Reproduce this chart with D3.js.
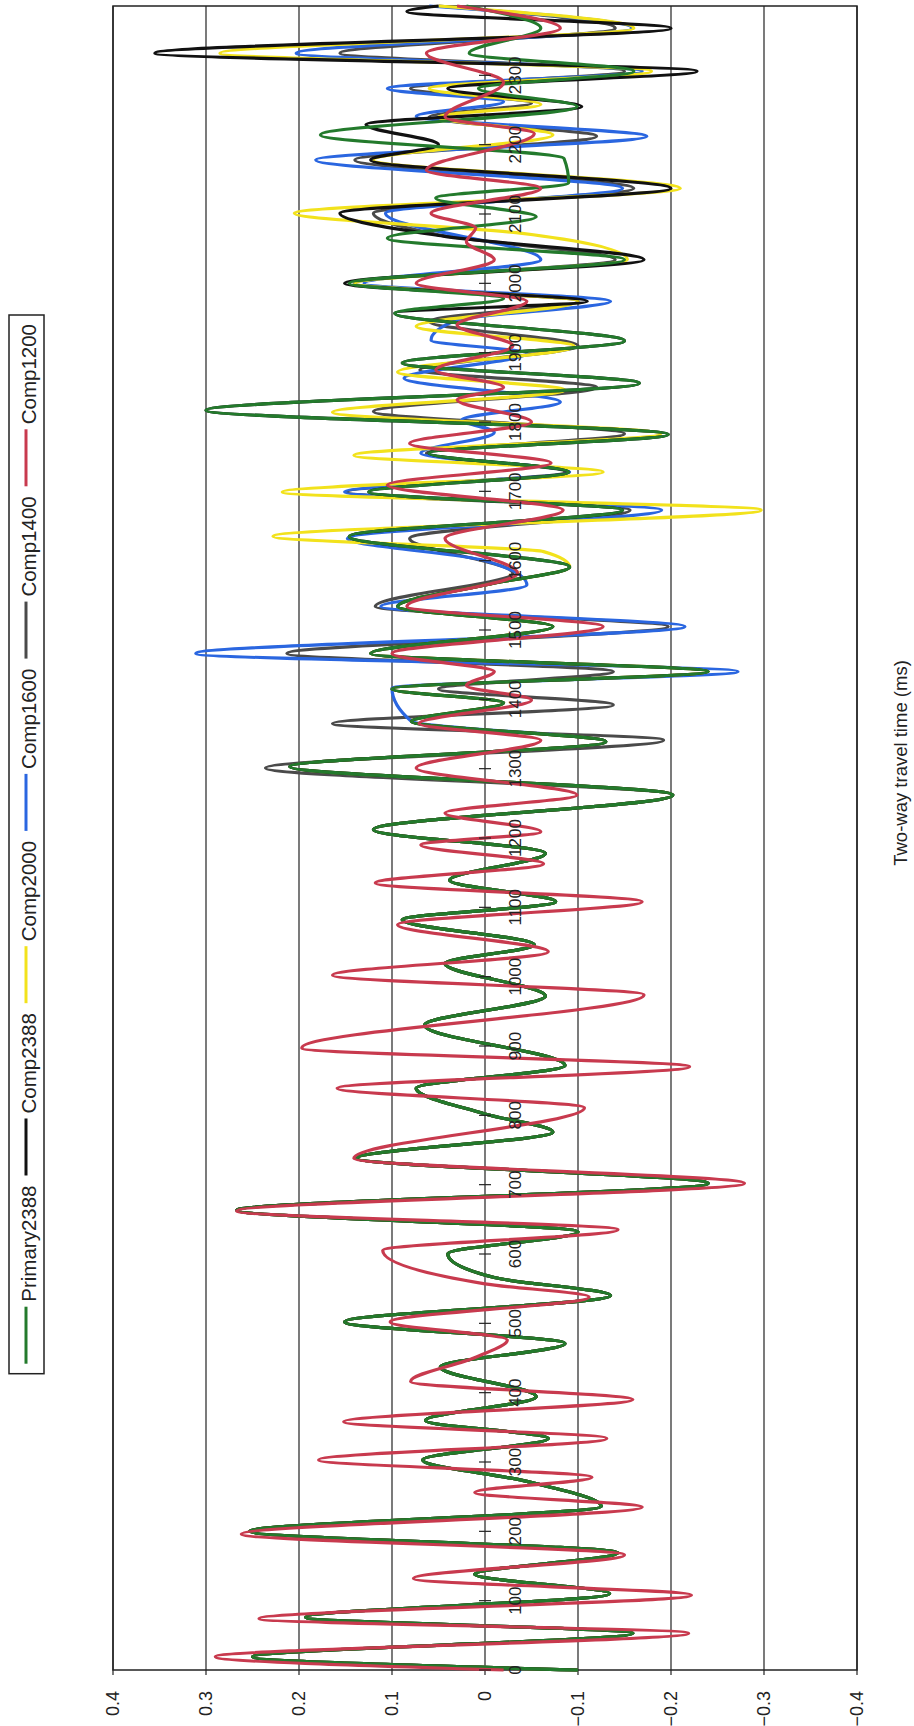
<!DOCTYPE html>
<html>
<head>
<meta charset="utf-8">
<script src="https://cdn.jsdelivr.net/npm/d3@7"></script>
<style>
  body { margin: 0; background: #fff; }
  svg { display: block; font-family: "Liberation Sans", Arial, sans-serif; }
</style>
</head>
<body>
<svg id="chart" width="914" height="1726"></svg>
<script>
// tick labels
const timeTicks = [0,100,200,300,400,500,600,700,800,900,1000,1100,1200,1300,1400,1500,1600,1700,1800,1900,2000,2100,2200,2300];
const ampTicks = [0.4,0.3,0.2,0.1,0,-0.1,-0.2,-0.3,-0.4];

// series: [time ms, amplitude]
const primary2388 = [
  [0,-0.10],[19,0.25],[53,-0.159],[76,0.193],[110,-0.134],[138,0.011],[169,-0.143],[200,0.253],[236,-0.125],[272,-0.045],
  [303,0.067],[334,-0.068],[360,0.064],[394,-0.055],[437,0.048],[471,-0.086],[502,0.151],[540,-0.135],[566,-0.01],[600,0.04],
  [632,-0.10],[663,0.267],[702,-0.24],[738,0.138],[776,-0.073],[802,0.0],[839,0.074],[872,-0.086],[930,0.065],[972,-0.065],
  [1019,0.043],[1046,-0.053],[1082,0.089],[1108,-0.076],[1139,0.038],[1178,-0.065],[1212,0.12],[1262,-0.202],[1303,0.21],[1339,-0.13],
  [1368,0.079],[1395,-0.02],[1415,0.10],[1440,-0.24],[1466,0.123],[1505,-0.073],[1534,0.094],[1565,0.0],[1591,-0.091],[1635,0.146],
  [1673,-0.148],[1699,0.125],[1728,-0.09],[1755,0.06],[1782,-0.197],[1817,0.30],[1856,-0.166],[1885,0.089],[1917,-0.15],[1957,0.097],
  [1978,-0.02],[2000,0.146],[2034,-0.15],[2065,0.105],[2096,-0.055],[2123,0.053],[2145,-0.09],[2180,-0.085],[2214,0.177],[2255,-0.099],
  [2281,0.007],[2306,-0.16],[2332,0.017],[2368,-0.06],[2400,0.02]
];
const comp1200 = [
  [0,-0.02],[19,0.29],[53,-0.219],[74,0.243],[108,-0.222],[132,0.077],[166,-0.15],[196,0.262],[235,-0.169],[256,0.011],
  [278,-0.115],[303,0.179],[334,-0.131],[358,0.152],[390,-0.159],[416,0.08],[451,0.01],[476,-0.024],[502,0.102],[538,-0.112],
  [557,0.0],[605,0.11],[635,-0.143],[662,0.267],[702,-0.279],[738,0.141],[811,-0.107],[839,0.159],[870,-0.22],[897,0.197],
  [974,-0.171],[1002,0.164],[1036,-0.068],[1075,0.094],[1108,-0.169],[1135,0.118],[1163,-0.063],[1190,0.069],[1209,-0.06],[1236,0.043],
  [1262,-0.099],[1301,0.074],[1341,-0.06],[1365,0.071],[1399,-0.05],[1420,0.02],[1440,-0.01],[1466,0.10],[1505,-0.127],[1534,0.084],
  [1582,-0.035],[1632,0.043],[1673,-0.084],[1709,0.105],[1741,-0.071],[1769,0.081],[1800,-0.05],[1832,0.03],[1850,-0.02],[1875,0.053],
  [1910,-0.03],[1940,0.03],[1974,-0.045],[2000,0.074],[2034,-0.01],[2060,0.02],[2080,0.01],[2101,0.058],[2137,-0.06],[2163,0.063],
  [2216,-0.053],[2240,0.043],[2290,-0.02],[2332,0.063],[2368,-0.081],[2400,0.03]
];
const comp1400 = [
  [1301,0.236],[1341,-0.192],[1365,0.164],[1392,-0.138],[1415,0.05],[1440,-0.138],[1466,0.213],[1505,-0.197],[1534,0.118],[1582,-0.03],
  [1632,0.081],[1673,-0.156],[1699,0.148],[1728,-0.086],[1755,0.063],[1783,-0.15],[1815,0.12],[1850,-0.12],[1875,0.07],[1910,-0.1],
  [1945,0.06],[1974,-0.1],[2000,0.14],[2034,-0.14],[2070,0.05],[2101,0.12],[2137,-0.16],[2178,0.14],[2212,-0.12],[2240,0.06],
  [2260,-0.05],[2281,0.08],[2306,-0.15],[2332,0.156],[2368,-0.14],[2400,0.05]
];
const comp1600 = [
  [1416,0.10],[1440,-0.272],[1466,0.311],[1505,-0.215],[1534,0.112],[1565,-0.045],[1600,0.0],[1632,0.148],[1673,-0.19],[1699,0.151],
  [1728,-0.091],[1755,0.069],[1785,-0.01],[1803,0.025],[1829,-0.081],[1863,0.087],[1899,-0.045],[1918,0.058],[1947,0.03],[1974,-0.135],
  [2000,0.13],[2034,-0.06],[2101,0.107],[2137,-0.148],[2178,0.182],[2212,-0.174],[2241,0.074],[2262,-0.02],[2281,0.105],[2306,-0.169],
  [2332,0.203],[2368,-0.158],[2400,0.06]
];
const comp2000 = [
  [1613,-0.063],[1635,0.228],[1673,-0.297],[1699,0.218],[1728,-0.127],[1752,0.141],[1783,-0.189],[1814,0.164],[1846,-0.086],[1872,0.094],
  [1909,-0.096],[1938,0.074],[1974,-0.10],[2000,0.14],[2034,-0.153],[2072,-0.04],[2101,0.205],[2137,-0.21],[2178,0.12],[2214,-0.073],
  [2240,0.05],[2258,-0.06],[2281,0.06],[2306,-0.179],[2332,0.285],[2368,-0.16],[2400,0.05]
];
const comp2388 = [
  [1974,-0.11],[2000,0.151],[2034,-0.171],[2068,0.045],[2101,0.156],[2137,-0.2],[2178,0.123],[2200,0.05],[2229,0.128],[2255,-0.104],
  [2281,0.04],[2306,-0.228],[2332,0.355],[2368,-0.2],[2392,0.084],[2400,0.05]
];
// time where each composite leaves the primary trace
const splitTimes = { comp1400: 1265, comp1600: 1395, comp2000: 1600, comp2388: 1960 };

const withPrimary = (own, t0) => primary2388.filter(d => d[0] < t0).concat(own);

const series = [
  { name: "Comp1400", color: "#4a4a4a", pts: withPrimary(comp1400, splitTimes.comp1400) },
  { name: "Comp1600", color: "#2a66e0", pts: withPrimary(comp1600, splitTimes.comp1600) },
  { name: "Comp2000", color: "#f2e21c", pts: withPrimary(comp2000, splitTimes.comp2000) },
  { name: "Comp2388", color: "#111111", pts: withPrimary(comp2388, splitTimes.comp2388) },
  { name: "Primary2388", color: "#237a2c", pts: primary2388 },
  { name: "Comp1200", color: "#c83a4e", pts: comp1200 }
];
const legendOrder = ["Comp1200", "Comp1400", "Comp1600", "Comp2000", "Comp2388", "Primary2388"];

const svg = d3.select("#chart");
const plot = { left: 113, right: 857, top: 6, bottom: 1670 };

const x = d3.scaleLinear().domain([0.4, -0.4]).range([plot.left, plot.right]);
const y = d3.scaleLinear().domain([0, 2400]).range([plot.bottom, plot.top]);

// grid lines (vertical, one per 0.1)
svg.append("g")
  .selectAll("line")
  .data(ampTicks)
  .join("line")
  .attr("x1", d => x(d)).attr("x2", d => x(d))
  .attr("y1", plot.top).attr("y2", plot.bottom + 5)
  .attr("stroke", "#222").attr("stroke-width", 1.2);

svg.append("rect")
  .attr("x", plot.left).attr("y", plot.top)
  .attr("width", plot.right - plot.left).attr("height", plot.bottom - plot.top)
  .attr("fill", "none").attr("stroke", "#222").attr("stroke-width", 1.5);

// traces
const line = d3.line()
  .x(d => x(d[1]))
  .y(d => y(d[0]))
  .curve(d3.curveMonotoneY);

svg.append("g")
  .selectAll("path")
  .data(series)
  .join("path")
  .attr("d", d => line(d.pts.slice().sort((a, b) => b[0] - a[0])))
  .attr("fill", "none")
  .attr("stroke", d => d.color)
  .attr("stroke-width", 3.2)
  .attr("stroke-linejoin", "round");

// time axis along the zero line
const tAxis = svg.append("g");
tAxis.selectAll("line")
  .data(timeTicks)
  .join("line")
  .attr("x1", x(0) - 6).attr("x2", x(0) + 6)
  .attr("y1", d => y(d)).attr("y2", d => y(d))
  .attr("stroke", "#222").attr("stroke-width", 1.2);
tAxis.selectAll("text")
  .data(timeTicks)
  .join("text")
  .attr("transform", d => `translate(${x(0) + 30},${y(d)}) rotate(-90)`)
  .attr("text-anchor", "middle")
  .attr("dominant-baseline", "central")
  .attr("font-size", 17)
  .attr("fill", "#222")
  .text(d => d);

// amplitude labels below the frame
svg.append("g")
  .selectAll("text")
  .data(ampTicks)
  .join("text")
  .attr("transform", d => `translate(${x(d)},${plot.bottom + 21}) rotate(-90)`)
  .attr("text-anchor", "end")
  .attr("dominant-baseline", "central")
  .attr("font-size", 18)
  .attr("fill", "#222")
  .text(d => d === 0 ? "0" : d3.format(".1f")(d));

// axis title
svg.append("text")
  .attr("transform", "translate(900,763) rotate(-90)")
  .attr("text-anchor", "middle")
  .attr("dominant-baseline", "central")
  .attr("font-size", 18.5)
  .attr("fill", "#222")
  .text("Two-way travel time (ms)");

// legend, rotated, read bottom to top
const legend = svg.append("g");
const lx = 28;
let cursor = 324;
legendOrder.forEach(name => {
  const s = series.find(d => d.name === name);
  const t = legend.append("text")
    .attr("font-size", 20.5)
    .attr("fill", "#222")
    .attr("dominant-baseline", "central")
    .text(name);
  const len = t.node().getComputedTextLength();
  t.attr("transform", `translate(${lx},${cursor + len}) rotate(-90)`);
  const l0 = cursor + len + 5;
  legend.append("line")
    .attr("x1", lx - 2).attr("x2", lx - 2)
    .attr("y1", l0).attr("y2", l0 + 57)
    .attr("stroke", s.color).attr("stroke-width", 3);
  cursor = l0 + 57 + 10;
});
legend.insert("rect", ":first-child")
  .attr("x", 9).attr("y", 315)
  .attr("width", 35).attr("height", cursor - 315)
  .attr("fill", "#fff").attr("stroke", "#222").attr("stroke-width", 1.5);
</script>
</body>
</html>
